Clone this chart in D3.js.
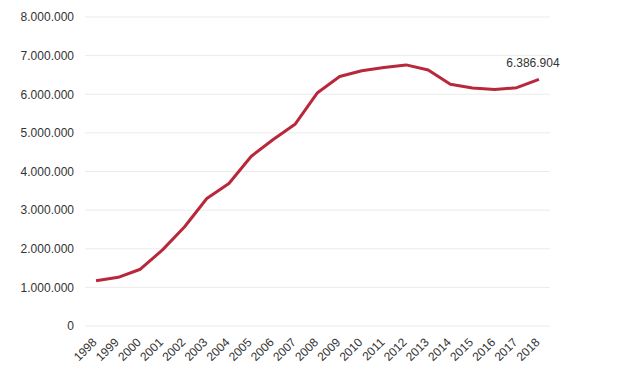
<!DOCTYPE html>
<html>
<head>
<meta charset="utf-8">
<script src="https://cdn.jsdelivr.net/npm/d3@7"></script>
<style>
  body { margin: 0; background: #fff; }
  text { font-family: "Liberation Sans", Arial, sans-serif; }
</style>
</head>
<body>
<div id="chart-area"></div>
<script>
const years = ["1998","1999","2000","2001","2002","2003","2004","2005","2006","2007",
  "2008","2009","2010","2011","2012","2013","2014","2015","2016","2017","2018"];
const values = [1170000, 1260000, 1470000, 1970000, 2570000, 3300000, 3690000, 4390000, 4830000, 5230000,
  6040000, 6460000, 6610000, 6690000, 6760000, 6630000, 6260000, 6160000, 6120000, 6170000, 6386904];
const yTicks = [0, 1000000, 2000000, 3000000, 4000000, 5000000, 6000000, 7000000, 8000000];

const margin = {top: 17, right: 70, bottom: 50, left: 85};
const width = 620 - margin.left - margin.right;
const height = 376 - margin.top - margin.bottom;

let svg = d3.select("#chart-area")
  .append("svg")
  .attr("width", 620)
  .attr("height", 376);

let group = svg.append("g")
  .attr("transform", `translate(${margin.left}, ${margin.top})`);

//escalas
let x = d3.scalePoint().domain(years).range([0, width]).padding(0.5);
let y = d3.scaleLinear().domain([0, 8000000]).range([height, 0]);

// formato con puntos
const fmt = d3.formatLocale({decimal: ",", thousands: ".", grouping: [3], currency: ["", ""]}).format(",d");

//grid
group.selectAll("line.grid").data(yTicks).enter().append("line")
  .attr("class", "grid")
  .attr("x1", 0).attr("x2", width)
  .attr("y1", d => y(d)).attr("y2", d => y(d))
  .attr("stroke", "#ebebeb")
  .attr("stroke-width", 1);

//eje y
const yGroup = group.append("g")
  .call(d3.axisLeft(y).tickValues(yTicks).tickFormat(fmt).tickSize(0).tickPadding(11));
yGroup.select(".domain").remove();
yGroup.selectAll("text").attr("font-size", "12px").attr("fill", "#333");

//eje x
const xGroup = group.append("g")
  .attr("transform", `translate(0, ${height})`)
  .call(d3.axisBottom(x).tickSize(0));
xGroup.select(".domain").remove();
xGroup.selectAll("text")
  .attr("font-size", "12px")
  .attr("fill", "#333")
  .attr("text-anchor", "end")
  .attr("dy", "0.35em")
  .attr("y", 0)
  .attr("transform", "translate(-2, 14) rotate(-45)");

//linea
const line = d3.line()
  .x((d, i) => x(years[i]))
  .y(d => y(d));

group.append("path")
  .datum(values)
  .attr("fill", "none")
  .attr("stroke", "#b8283a")
  .attr("stroke-width", 3)
  .attr("stroke-linejoin", "round")
  .attr("d", line);

//etiqueta ultimo valor
const last = values.length - 1;
group.append("text")
  .attr("x", x(years[last]) - 6)
  .attr("y", y(values[last]) - 12)
  .attr("text-anchor", "middle")
  .attr("font-size", "12px")
  .attr("fill", "#333")
  .text(fmt(values[last]));
</script>
</body>
</html>
